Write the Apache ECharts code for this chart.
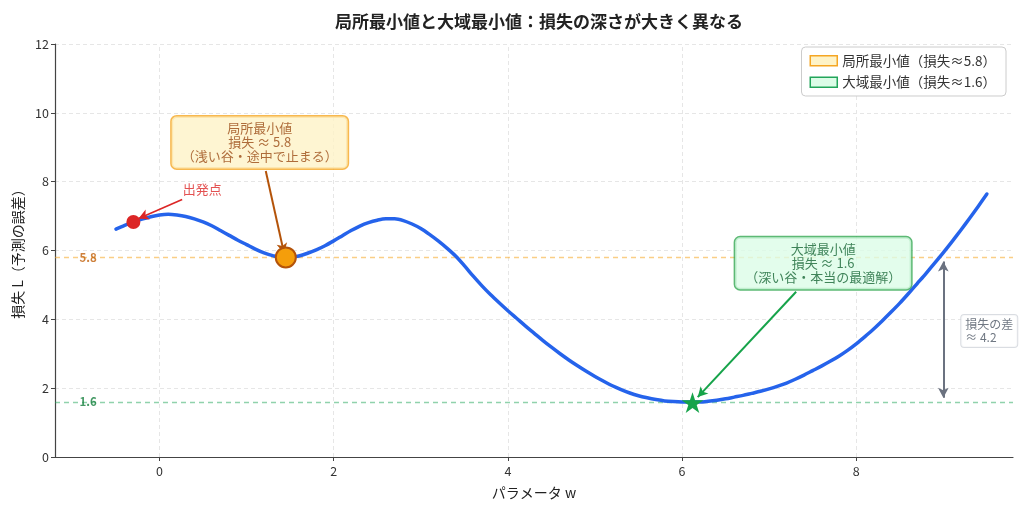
<!DOCTYPE html>
<html>
<head>
<meta charset="utf-8">
<script src="https://cdn.jsdelivr.net/npm/echarts@6/dist/echarts.min.js"></script>
<style>
html,body{margin:0;padding:0;background:#fff;}
#chart{width:1024px;height:510px;}
</style>
</head>
<body>
<div id="chart"></div>
<script>
// ---- data (w step 0.1 from -0.5 to 9.5) ----
const curveW = [-0.5,-0.4,-0.3,-0.2,-0.1,0,0.1,0.2,0.3,0.4,0.5,0.6,0.7,0.8,0.9,1,1.1,1.2,1.3,1.4,1.5,1.6,1.7,1.8,1.9,2,2.1,2.2,2.3,2.4,2.5,2.6,2.7,2.8,2.9,3,3.1,3.2,3.3,3.4,3.5,3.6,3.7,3.8,3.9,4,4.1,4.2,4.3,4.4,4.5,4.6,4.7,4.8,4.9,5,5.1,5.2,5.3,5.4,5.5,5.6,5.7,5.8,5.9,6,6.1,6.2,6.3,6.4,6.5,6.6,6.7,6.8,6.9,7,7.1,7.2,7.3,7.4,7.5,7.6,7.7,7.8,7.9,8,8.1,8.2,8.3,8.4,8.5,8.6,8.7,8.8,8.9,9,9.1,9.2,9.3,9.4,9.5];
const curveL = [6.62,6.73,6.83,6.91,6.98,7.03,7.05,7.03,6.99,6.92,6.83,6.72,6.58,6.44,6.30,6.17,6.04,5.93,5.85,5.80,5.80,5.84,5.92,6.02,6.14,6.28,6.43,6.58,6.71,6.81,6.88,6.92,6.92,6.87,6.77,6.64,6.47,6.28,6.07,5.84,5.56,5.26,4.98,4.72,4.48,4.25,4.03,3.81,3.60,3.39,3.19,3.00,2.82,2.65,2.49,2.34,2.20,2.07,1.96,1.86,1.78,1.72,1.67,1.63,1.61,1.60,1.60,1.60,1.62,1.65,1.69,1.74,1.79,1.85,1.91,1.98,2.06,2.15,2.26,2.38,2.51,2.64,2.78,2.93,3.10,3.29,3.50,3.72,3.96,4.21,4.47,4.75,5.04,5.33,5.63,5.94,6.26,6.59,6.93,7.28,7.64];
const startPoint = [-0.3, 6.83];
const localMin = [1.45, 5.8];
const globalMin = [6.12, 1.58];
const localLevel = 5.8;
const globalLevel = 1.6;
const lossGap = 4.2;
const xTicks = [0, 2, 4, 6, 8];
const yTicks = [0, 2, 4, 6, 8, 10, 12];
const xRange = [-1.2, 9.8];
const yRange = [0, 12];
const legendNames = ['局所最小値（損失≈5.8）', '大域最小値（損失≈1.6）'];
const titleText = '局所最小値と大域最小値：損失の深さが大きく異なる';
const xName = 'パラメータ w';
const yName = '損失 L（予測の誤差）';
// annotation anchors (data coordinates)
const startLabelPos = [0.49, 7.78];
const startArrow = [[0.26, 7.48], [-0.24, 6.93]];
const localBoxPos = [1.15, 9.14];
const localArrow = [[1.22, 8.31], [1.43, 5.92]];
const globalBoxPos = [7.62, 5.63];
const globalArrow = [[7.31, 4.80], [6.18, 1.74]];
const gapArrowX = 9.0;
const gapArrowEnds = [5.68, 1.72];
const gapBoxPos = [9.2, 3.66];
const levelLabelX = -0.82;

const FONT = 'Noto Sans CJK JP';
const curve = curveW.map((w, i) => [w, curveL[i]]);
const starPath = 'path://M50 0 L61.17 34.63 L97.55 34.55 L68.07 55.87 L79.39 90.45 L50 69 L20.61 90.45 L31.93 55.87 L2.45 34.55 L38.83 34.63 Z';

function arrowLine(pts, color, width) {
  return [
    { coord: pts[0], symbol: 'none', lineStyle: { color: color, width: width, type: 'solid' } },
    { coord: pts[1], symbol: 'arrow', symbolSize: [8, 10] }
  ];
}

const chart = echarts.init(document.getElementById('chart'), null, { renderer: 'canvas' });

const option = {
  animation: false,
  backgroundColor: '#ffffff',
  textStyle: { fontFamily: FONT },
  title: {
    text: titleText,
    left: 534,
    textAlign: 'center',
    top: 8,
    textStyle: { fontFamily: FONT, fontSize: 17, fontWeight: 'bold', color: '#222' }
  },
  legend: {
    orient: 'vertical',
    right: 18,
    top: 47,
    padding: [7, 10, 7, 8],
    itemWidth: 27,
    itemHeight: 10,
    itemGap: 8,
    borderColor: '#cccccc',
    borderWidth: 1,
    borderRadius: 4,
    backgroundColor: '#ffffff',
    textStyle: { fontFamily: FONT, fontSize: 13.5, color: '#333' },
    selectedMode: false,
    data: [
      { name: legendNames[0], icon: 'rect', itemStyle: { color: '#fef3c7', borderColor: '#f5a623', borderWidth: 1.5, opacity: 1 } },
      { name: legendNames[1], icon: 'rect', itemStyle: { color: '#dcfce7', borderColor: '#22a55a', borderWidth: 1.5, opacity: 1 } }
    ]
  },
  grid: { left: 55, right: 11, top: 44, bottom: 53, containLabel: false },
  xAxis: {
    type: 'value',
    min: xRange[0],
    max: xRange[1],
    interval: 2,
    name: xName,
    nameLocation: 'middle',
    nameGap: 29,
    nameTextStyle: { fontFamily: FONT, fontSize: 14, color: '#222' },
    axisLine: { show: true, onZero: false, lineStyle: { color: '#444', width: 1.2 } },
    axisTick: { show: true, length: 4, customValues: xTicks, lineStyle: { color: '#444' } },
    axisLabel: { customValues: xTicks, margin: 8, fontFamily: FONT, fontSize: 12.5, color: '#333' },
    splitLine: { show: false }
  },
  yAxis: {
    type: 'value',
    min: yRange[0],
    max: yRange[1],
    interval: 2,
    name: yName,
    nameLocation: 'middle',
    nameGap: 30,
    nameTextStyle: { fontFamily: FONT, fontSize: 14, color: '#222' },
    axisLine: { show: true, onZero: false, lineStyle: { color: '#444', width: 1.2 } },
    axisTick: { show: true, length: 4, lineStyle: { color: '#444' } },
    axisLabel: { margin: 6, fontFamily: FONT, fontSize: 12.5, color: '#333' },
    splitLine: { show: true, lineStyle: { color: '#e6e6e6', type: [4, 3], width: 1 } }
  },
  series: [
    {
      type: 'line', name: 'vgrid', data: [], silent: true, z: 1,
      markLine: {
        silent: true, symbol: 'none', label: { show: false }, z: 1,
        lineStyle: { color: '#e6e6e6', type: [4, 3], width: 1 },
        data: xTicks.map(v => ({ xAxis: v }))
      }
    },
    {
      type: 'line', name: 'levels', data: [], silent: true, z: 1,
      markLine: {
        silent: true, symbol: 'none', label: { show: false }, z: 2,
        data: [
          { yAxis: localLevel, lineStyle: { color: 'rgba(245,166,35,0.55)', type: [5, 4], width: 1.3 } },
          { yAxis: globalLevel, lineStyle: { color: 'rgba(34,165,90,0.5)', type: [5, 4], width: 1.3 } }
        ]
      }
    },
    {
      type: 'line', name: 'loss', data: curve, smooth: 0.3, showSymbol: false, symbol: 'none',
      lineStyle: { color: '#2563eb', width: 3.5, cap: 'round', join: 'round' }, z: 3
    },
    {
      type: 'line', name: 'arrows', data: [], silent: true, z: 4,
      markLine: {
        silent: true, label: { show: false }, z: 6,
        data: [
          arrowLine(startArrow, '#dc2626', 1.6),
          arrowLine(localArrow, '#b45309', 2),
          arrowLine(globalArrow, '#16a34a', 2),
          [
            { coord: [gapArrowX, gapArrowEnds[0]], symbol: 'arrow', symbolSize: [8, 10], lineStyle: { color: '#6b7280', width: 2, type: 'solid' } },
            { coord: [gapArrowX, gapArrowEnds[1]], symbol: 'arrow', symbolSize: [8, 10] }
          ]
        ]
      }
    },
    {
      type: 'scatter', name: 'start', data: [startPoint], symbol: 'circle', symbolSize: 14,
      itemStyle: { color: '#dc2626', opacity: 1 }, z: 7
    },
    {
      type: 'scatter', name: 'localMin', data: [localMin], symbol: 'circle', symbolSize: 20,
      itemStyle: { color: '#f59e0b', borderColor: '#b45309', borderWidth: 2, opacity: 1 }, z: 7
    },
    {
      type: 'scatter', name: 'globalMin', data: [globalMin], symbol: starPath, symbolKeepAspect: true, symbolSize: 22,
      itemStyle: { color: '#16a34a', opacity: 1 }, z: 7
    },
    {
      type: 'scatter', name: 'labels', symbolSize: 1, itemStyle: { color: 'rgba(0,0,0,0)' }, z: 8, silent: true,
      label: { show: true, position: 'inside', fontFamily: FONT },
      data: [
        { value: startLabelPos, label: { formatter: '出発点', fontSize: 13, color: '#dc2626' } },
        { value: localBoxPos, label: {
          formatter: '局所最小値\n損失 ≈ 5.8\n（浅い谷・途中で止まる）', fontSize: 13, lineHeight: 14,
          color: '#9a4a14', align: 'center', backgroundColor: '#fef3c7', borderColor: '#f5a623', borderWidth: 1.5,
          borderRadius: 5, padding: [5, 10] } },
        { value: globalBoxPos, label: {
          formatter: '大域最小値\n損失 ≈ 1.6\n（深い谷・本当の最適解）', fontSize: 13, lineHeight: 14,
          color: '#166534', align: 'center', backgroundColor: '#dcfce7', borderColor: '#34a853', borderWidth: 1.5,
          borderRadius: 5, padding: [5, 10] } },
        { value: gapBoxPos, label: {
          position: 'right', distance: 0,
          formatter: '損失の差\n≈ ' + lossGap.toFixed(1), fontSize: 12, lineHeight: 13,
          color: '#4b5563', align: 'left', backgroundColor: '#ffffff', borderColor: '#d1d5db', borderWidth: 1,
          borderRadius: 3, padding: [3, 4] } },
        { value: [levelLabelX, localLevel], label: { formatter: localLevel.toFixed(1), fontSize: 11.5, fontWeight: 'bold', color: '#c2620c' } },
        { value: [levelLabelX, globalLevel], label: { formatter: globalLevel.toFixed(1), fontSize: 11.5, fontWeight: 'bold', color: '#15803d' } }
      ]
    },
    { type: 'scatter', name: legendNames[0], data: [], itemStyle: { color: '#fef3c7', borderColor: '#f5a623', borderWidth: 1.5, opacity: 1 } },
    { type: 'scatter', name: legendNames[1], data: [], itemStyle: { color: '#dcfce7', borderColor: '#22a55a', borderWidth: 1.5, opacity: 1 } }
  ]
};
chart.setOption(option);
</script>
</body>
</html>
